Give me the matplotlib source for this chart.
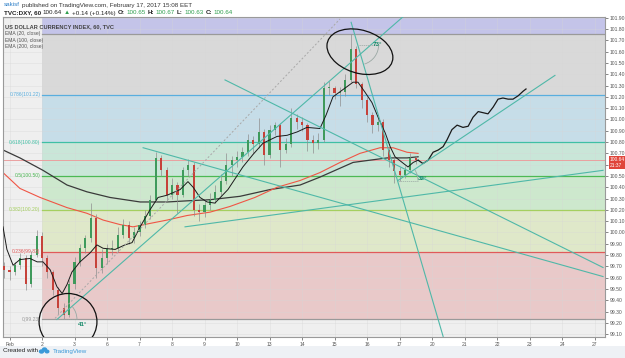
import matplotlib
matplotlib.use("Agg")
import matplotlib.pyplot as plt
from matplotlib.patches import Rectangle, Ellipse, Arc
from matplotlib.transforms import ScaledTranslation, blended_transform_factory

plt.rcParams["font.family"] = ["Liberation Sans", "DejaVu Sans"]

# ── data ──────────────────────────────────────────────────────────────────────
# x axis = trading-day index (0 = Feb 1), six 4h candles per day
day_labels = ["Feb", "2", "3", "6", "7", "8", "9", "10", "13", "14",
              "15", "16", "17", "20", "21", "22", "23", "24", "27"]
BARS_PER_DAY = 6

opens = [99.70, 99.67, 99.65, 99.71, 99.77, 99.54, 99.80, 99.97, 99.77, 99.65,
         99.49, 99.33, 99.27, 99.54, 99.74, 99.86, 99.95, 100.13, 99.69, 99.77,
         99.85, 99.86, 99.98, 100.07, 99.95, 100.00, 100.07, 100.15, 100.29, 100.66,
         100.55, 100.33, 100.42, 100.33, 100.55, 100.60, 100.20, 100.18, 100.24, 100.29,
         100.36, 100.46, 100.60, 100.64, 100.67, 100.71, 100.82, 100.78, 100.89, 100.69,
         100.91, 100.95, 100.73, 100.78, 101.01, 100.98, 100.95, 100.82, 100.79, 100.82,
         101.28, 101.28, 101.23, 101.24, 101.35, 101.62, 101.31, 101.17, 101.04, 100.95,
         100.98, 100.73, 100.64, 100.54, 100.51, 100.55, 100.66]
highs = [99.74, 99.70, 99.74, 99.82, 99.80, 99.84, 100.02, 100.00, 99.80, 99.67,
         99.52, 99.38, 99.58, 99.78, 99.90, 99.98, 100.26, 100.16, 99.85, 99.90,
         99.93, 100.05, 100.12, 100.10, 100.05, 100.10, 100.20, 100.33, 100.71, 100.69,
         100.58, 100.48, 100.45, 100.58, 100.65, 100.62, 100.25, 100.30, 100.35, 100.42,
         100.52, 100.70, 100.68, 100.72, 100.76, 100.87, 100.85, 101.01, 100.92, 100.95,
         100.98, 100.97, 100.84, 101.10, 101.05, 101.02, 100.97, 100.86, 100.88, 101.33,
         101.34, 101.30, 101.29, 101.40, 101.76, 101.65, 101.33, 101.20, 101.07, 101.02,
         101.00, 100.76, 100.67, 100.58, 100.59, 100.70, 100.68]
lows = [99.60, 99.58, 99.62, 99.68, 99.49, 99.52, 99.78, 99.70, 99.60, 99.45,
        99.28, 99.23, 99.25, 99.50, 99.70, 99.82, 99.92, 99.60, 99.64, 99.72,
        99.80, 99.83, 99.95, 99.90, 99.91, 99.97, 100.04, 100.12, 100.27, 100.50,
        100.28, 100.30, 100.17, 100.31, 100.50, 100.15, 100.10, 100.14, 100.20, 100.26,
        100.33, 100.43, 100.50, 100.58, 100.62, 100.68, 100.70, 100.75, 100.60, 100.66,
        100.86, 100.58, 100.70, 100.76, 100.92, 100.90, 100.72, 100.70, 100.74, 100.80,
        101.22, 101.18, 101.12, 101.21, 101.33, 101.28, 101.10, 100.98, 100.88, 100.90,
        100.68, 100.58, 100.44, 100.46, 100.48, 100.53, 100.61]
closes = [99.67, 99.65, 99.71, 99.77, 99.54, 99.80, 99.97, 99.77, 99.65, 99.49,
          99.33, 99.27, 99.54, 99.74, 99.86, 99.95, 100.13, 99.69, 99.77, 99.85,
          99.86, 99.98, 100.07, 99.95, 100.00, 100.07, 100.15, 100.29, 100.66, 100.55,
          100.33, 100.42, 100.33, 100.55, 100.60, 100.20, 100.18, 100.24, 100.29, 100.36,
          100.46, 100.60, 100.64, 100.67, 100.71, 100.82, 100.78, 100.89, 100.69, 100.91,
          100.95, 100.73, 100.78, 101.01, 100.98, 100.95, 100.82, 100.79, 100.82, 101.28,
          101.28, 101.23, 101.24, 101.35, 101.62, 101.31, 101.17, 101.04, 100.95, 100.98,
          100.73, 100.64, 100.54, 100.51, 100.55, 100.66, 100.64]

# EMA traces (day index, price)
ema20_t = [-0.20, -0.08, 0.11, 0.32, 0.63, 0.85, 1.03, 1.25, 1.46, 1.62, 1.77, 1.92,
           2.17, 2.48, 2.69, 2.88, 3.25, 3.55, 3.77, 4.02, 4.32, 4.57, 4.85, 5.25,
           5.49, 5.65, 5.86, 6.08, 6.32, 6.72, 7.18, 7.49, 7.80, 8.23, 8.54, 8.85,
           9.15, 9.55, 9.74, 9.95, 10.38, 10.57, 10.72, 10.94, 11.15, 11.34, 11.56,
           11.71, 11.86, 12.08, 12.26, 12.42, 12.57]
ema20_p = [100.05, 99.85, 99.71, 99.76, 99.77, 99.74, 99.74, 99.67, 99.52, 99.46, 99.54, 99.65,
           99.74, 99.82, 99.89, 99.86, 99.85, 99.89, 99.91, 100.05, 100.20, 100.31, 100.33, 100.38,
           100.45, 100.40, 100.31, 100.27, 100.26, 100.38, 100.58, 100.69, 100.79, 100.85, 100.86, 100.89,
           100.93, 100.92, 101.04, 101.20, 101.29, 101.33, 101.33, 101.24, 101.15, 101.02, 100.88,
           100.76, 100.67, 100.62, 100.58, 100.62, 100.64]
ema100_t = [-0.20, 0.32, 0.94, 1.77, 2.38, 2.88, 3.40, 3.80, 4.32, 4.85, 5.46, 6.17,
            6.78, 7.55, 8.23, 8.94, 9.55, 10.17, 10.78, 11.40, 11.80, 12.23, 12.57]
ema100_p = [100.53, 100.39, 100.31, 100.22, 100.17, 100.11, 100.07, 100.05, 100.08, 100.11, 100.15, 100.18,
            100.23, 100.31, 100.40, 100.46, 100.53, 100.62, 100.70, 100.75, 100.75, 100.71, 100.70]
ema200_t = [-0.20, 0.32, 1.03, 1.77, 2.38, 3.09, 4.02, 4.85, 5.46, 6.17, 7.09, 8.02,
            8.94, 9.55, 10.57, 11.09, 11.62, 12.23, 12.57]
ema200_p = [100.73, 100.66, 100.55, 100.42, 100.36, 100.31, 100.27, 100.27, 100.28, 100.29, 100.32, 100.38,
            100.42, 100.49, 100.62, 100.64, 100.66, 100.66, 100.67]

# hand-drawn projection after the last candle
proj_t = [12.57, 12.72, 12.88, 13.03, 13.19, 13.34, 13.46, 13.61, 13.77, 13.95, 14.11,
          14.26, 14.42, 14.57, 14.72, 14.88, 15.03, 15.18, 15.34, 15.49, 15.65, 15.80, 15.89]
proj_p = [100.64, 100.61, 100.64, 100.71, 100.73, 100.76, 100.82, 100.91, 100.95, 100.93, 100.94,
          101.02, 101.07, 101.06, 101.05, 101.11, 101.18, 101.19, 101.18, 101.18, 101.21, 101.25, 101.27]

# Fibonacci retracement
fib_ratios = ["0", "0.236", "0.382", "0.5", "0.618", "0.786", "1"]
fib_prices = [99.23, 99.83, 100.20, 100.50, 100.80, 101.22, 101.76]
fib_start = 1.0

# trendlines: ((t0, p0), (t1, p1))
trend_lines = [
    ((1.46, 99.23), (12.11, 101.91)),    # 41 deg
    ((10.51, 101.86), (13.34, 99.08)),   # 73 deg
    ((11.95, 100.46), (16.78, 101.39)),  # 32 deg
    ((4.11, 100.75), (18.26, 99.61)),
    ((6.63, 101.35), (18.26, 99.69)),
    ((5.40, 100.05), (18.26, 100.55)),
]
dashed_line = ((1.40, 99.24), (10.17, 101.89))

last_price = 100.64
y_ticks = [round(99.1 + 0.1 * i, 2) for i in range(29)]

# ── figure ────────────────────────────────────────────────────────────────────
W, H = 625, 358
fig = plt.figure(figsize=(W / 100, H / 100), dpi=100, facecolor="white")
fig.patches.append(Rectangle((0, 0), 1, 12 / H, transform=fig.transFigure,
                             facecolor="#eef1f5", edgecolor="none", zorder=-5))

ax = fig.add_axes([3 / W, 21 / H, 602 / W, 320 / H])
ax.set_facecolor("#efefef")
ax.set_xlim(-0.2, 18.32)
ax.set_ylim(99.075, 101.907)

# fib zones
fill_cols = ["#e9c9c9", "#dfe8c9", "#cde8cd", "#c9e6d8", "#c6dde8", "#d9d9d9"]
line_cols = ["#9a9a9a", "#e05a5a", "#a5cf5f", "#4cb954", "#3fbfa5", "#5aaede", "#9a9a9a"]
for i in range(len(fib_prices) - 1):
    ax.add_patch(Rectangle((fib_start, fib_prices[i]), 30, fib_prices[i + 1] - fib_prices[i],
                           facecolor=fill_cols[i], edgecolor="none", zorder=0))
ax.add_patch(Rectangle((fib_start, fib_prices[-1]), 30, 1, facecolor="#c4c4e9",
                       edgecolor="none", zorder=0))
for r, p, c in zip(fib_ratios, fib_prices, line_cols):
    ax.plot([fib_start, 30], [p, p], color=c, lw=0.9, zorder=1)
    if r != "1":
        ax.text(fib_start - 0.05, p, f"{r}({p:.2f})", color=c, fontsize=3.6,
                ha="right", va="center", zorder=5)

# grid
for k in range(len(day_labels)):
    ax.axvline(k, color="#d6d6d6", lw=0.4, alpha=0.6, zorder=0.5)
for p in y_ticks:
    ax.axhline(p, color="#d6d6d6", lw=0.4, alpha=0.6, zorder=0.5)

# last price line
ax.axhline(last_price, color="#eaa0a0", lw=0.7, zorder=1.5)

# EMAs
ax.plot(ema200_t, ema200_p, color="#3a3a3a", lw=0.9, zorder=2)
ax.plot(ema100_t, ema100_p, color="#f05545", lw=0.8, zorder=2)

# candles
t = [(i - 1) / BARS_PER_DAY for i in range(len(closes))]
up = [c >= o for o, c in zip(opens, closes)]
ax.vlines(t, lows, highs, color="#8f8f8f", lw=0.5, zorder=3)
bodies_b = [min(o, c) for o, c in zip(opens, closes)]
bodies_h = [max(abs(c - o), 0.01) for o, c in zip(opens, closes)]
ax.bar(t, bodies_h, bottom=bodies_b, width=0.065,
       color=["#3f9a5c" if u else "#c6423a" for u in up], lw=0, zorder=3.5)

ax.plot(ema20_t, ema20_p, color="#1a1a1a", lw=0.7, zorder=4)
ax.plot(proj_t, proj_p, color="#1a1a1a", lw=0.9, zorder=4)

# trendlines
for (a, b) in trend_lines:
    ax.plot([a[0], b[0]], [a[1], b[1]], color="#4fb8a8", lw=0.8, zorder=4)
ax.plot([dashed_line[0][0], dashed_line[1][0]], [dashed_line[0][1], dashed_line[1][1]],
        color="#a8a8a8", lw=0.7, ls=(0, (2, 2)), zorder=4)

# hand-drawn circles
ax.add_patch(Ellipse((1.80, 99.21), 1.78, 0.50, fill=False, edgecolor="#111111", lw=0.9, zorder=5))
ax.add_patch(Ellipse((10.78, 101.60), 2.03, 0.39, angle=-3, fill=False, edgecolor="#111111",
                     lw=0.9, zorder=5))

# angle markers
def angle_mark(t0, p0, th1, th2, label, lt, lp):
    tr = fig.dpi_scale_trans + ScaledTranslation(t0, p0, ax.transData)
    ax.add_patch(Arc((0, 0), 0.4, 0.4, theta1=th1, theta2=th2, transform=tr,
                     color="#9aa8a4", lw=0.6, zorder=5))
    ax.plot([0, 0.2], [0, 0], transform=tr, color="#9aa8a4", lw=0.5, ls=(0, (2, 1)), zorder=5)
    ax.text(lt, lp, label, color="#168a6a", fontsize=4.5, fontweight="bold",
            ha="center", va="center", zorder=6)

angle_mark(1.46, 99.23, 0, 41, "41°", 2.25, 99.19)
angle_mark(10.74, 101.66, -73, 0, "73°", 11.32, 101.66)
angle_mark(11.95, 100.46, 0, 32, "32°", 12.70, 100.48)

# legend text
ax.text(0.004, 0.978, "US DOLLAR CURRENCY INDEX, 60, TVC", transform=ax.transAxes,
        fontsize=4.1, fontweight="bold", color="#444444", va="top")
for j, s in enumerate(["EMA (20, close)", "EMA (100, close)", "EMA (200, close)"]):
    ax.text(0.004, 0.955 - 0.02 * j, s, transform=ax.transAxes, fontsize=3.6,
            color="#555555", va="top")

# axes styling
ax.set_xticks(range(len(day_labels)))
ax.set_xticklabels(day_labels)
ax.set_yticks(y_ticks)
# the 100.60 label sits under the price tag
ax.set_yticklabels(["" if abs(p - 100.6) < 1e-6 else f"{p:.2f}" for p in y_ticks])
ax.yaxis.tick_right()
ax.tick_params(axis="both", labelsize=3.6, colors="#555555", length=2, width=0.5, pad=1.5)
for s in ax.spines.values():
    s.set_color("#9a9a9a")
    s.set_linewidth(0.8)

# price tag
bt = blended_transform_factory(ax.transAxes, ax.transData)
ax.text(1.008, last_price - 0.02, "100.64\n21:37", transform=bt, fontsize=3.5, color="white",
        ha="left", va="center", linespacing=1.1,
        bbox=dict(boxstyle="square,pad=0.25", facecolor="#e0453a", edgecolor="none"),
        zorder=10, clip_on=False)

# header / footer (pieces chained left to right)
def text_row(x, y, parts, size=4.5, gap=1.3):
    prev = None
    for s, col, bold in parts:
        kw = dict(color=col, fontsize=size, va="center", fontweight="bold" if bold else "normal")
        if prev is None:
            prev = fig.text(x / W, 1 - y / H, s, **kw)
        else:
            prev = ax.annotate(s, xy=(1, 0.5), xycoords=prev, xytext=(gap, 0),
                               textcoords="offset points", annotation_clip=False, **kw)

text_row(4, 5, [("sakisf", "#2f80c8", False),
                ("published on TradingView.com, February 17, 2017 15:08 EET", "#333333", False)])
text_row(4, 13, [("TVC:DXY, 60", "#222222", True), ("100.64", "#222222", False),
                 ("▲", "#2e9e4e", False), ("+0.14 (+0.14%)", "#222222", False),
                 ("O:", "#222222", True), ("100.65", "#2e9e4e", False),
                 ("H:", "#222222", True), ("100.67", "#2e9e4e", False),
                 ("L:", "#222222", True), ("100.63", "#2e9e4e", False),
                 ("C:", "#222222", True), ("100.64", "#2e9e4e", False)])
text_row(3, 351, [("Created with", "#222222", False), ("TradingView", "#3a9ad9", False)],
         gap=11)
# small cloud logo between the footer words
for cx, cy, w in [(41.5, 351.5, 5.5), (44.5, 349.5, 5.5), (47, 351.5, 5)]:
    fig.patches.append(Ellipse((cx / W, 1 - cy / H), w / W, w * 0.8 / H,
                               transform=fig.transFigure, facecolor="#3a9ad9",
                               edgecolor="none", zorder=5))

fig.savefig("out.png", dpi=100, facecolor=fig.get_facecolor())
